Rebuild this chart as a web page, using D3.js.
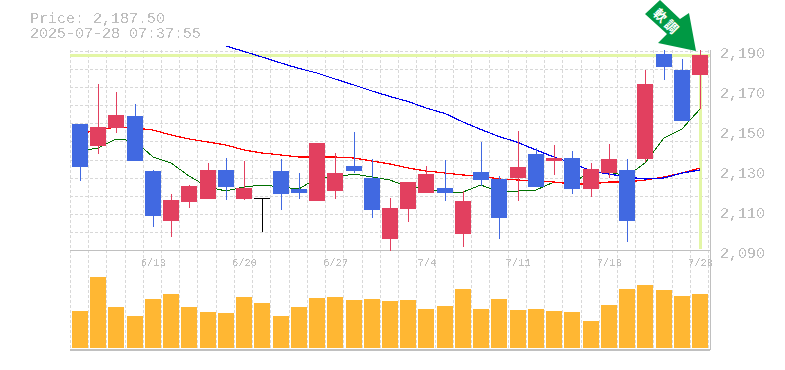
<!DOCTYPE html>
<html>
<head>
<meta charset="utf-8">
<title>Price chart</title>
<script src="https://d3js.org/d3.v7.min.js"></script>
<style>
  html, body { margin: 0; padding: 0; background: #fff; overflow: hidden; }
  svg { display: block; }
  .mono { font-family: "Liberation Mono", monospace; fill: #bebebe; }
</style>
</head>
<body>
<script>
// trading days, one per candle
var days = ["6/9","6/10","6/11","6/12","6/13","6/16","6/17","6/18","6/19","6/20","6/23","6/24","6/25","6/26","6/27","6/30","7/1","7/2","7/3","7/4","7/7","7/8","7/9","7/10","7/11","7/14","7/15","7/16","7/17","7/18","7/22","7/23","7/24","7/25","7/28"];
var dayTicks = ["6/13","6/20","6/27","7/4","7/11","7/18","7/28"];
var priceTicks = [2190,2170,2150,2130,2110,2090];

// top and bottom of the body, high and low, and the body colour
var bodyTop = [2153,2151.5,2157.5,2157,2129.5,2115,2122,2130,2130,2121,2116,2129.5,2120.5,2143.5,2128.5,2132,2126,2111,2124,2128,2121,2114.5,2129,2125.5,2131.5,2138,2136,2136,2130.5,2135.5,2130,2173,2188,2180,2187.5];
var bodyBottom = [2131.7,2142,2151,2134.5,2107,2104.5,2114,2115.5,2121.5,2115.5,2116,2118,2118.5,2114.5,2119.5,2129.5,2110,2095.5,2110.5,2118.5,2118.5,2098,2125,2106,2126,2121.5,2134.5,2120.5,2120.5,2128.5,2104.5,2135.5,2181.5,2154.5,2177.5];
var highs = [2153,2173,2169,2163,2130,2118,2122.5,2133.5,2136,2134.5,2116,2135.5,2128.5,2143.5,2138.5,2149,2135.5,2116,2124,2132,2135,2119.5,2144,2127,2149.5,2141,2142.5,2139.5,2133.5,2143,2135.5,2180,2190,2185.5,2190];
var lows = [2124.5,2138,2148.5,2134.5,2101.5,2096.5,2111,2115.5,2115,2115,2099,2110,2115.5,2114.5,2115.5,2128.5,2106,2089.5,2104,2118.5,2114.5,2091.5,2122,2095.5,2114.5,2121.5,2127.5,2118,2116.5,2126,2094,2134,2175,2154.5,2160.5];
var moves = ["d","u","u","d","d","u","u","u","d","u","f","d","d","u","u","d","d","u","u","u","d","u","d","d","u","d","u","d","u","u","d","u","d","d","u"];

// moving averages
var maShort = [2139.5,2141,2145.5,2144.5,2136.5,2133.5,2127,2121.5,2119.5,2121.5,2122.5,2121.5,2120.5,2126,2126.5,2128,2126.5,2125,2121.5,2121,2118.5,2119,2122.5,2119,2119.5,2120,2124,2123.5,2129,2129,2127,2133.5,2146,2150.5,2160.5];
var maMid = [2148,2150,2151.5,2151,2150,2147.5,2145.5,2144,2142.5,2140,2138.5,2137.5,2136.5,2136.5,2136.5,2136,2134.5,2133,2131,2129.5,2128.5,2127.5,2127,2125.5,2125,2124.5,2124,2123,2123,2124,2124,2125,2126.5,2128.5,2131];
var maLong = [null,null,null,null,null,null,null,null,2192,2189.25,2186.5,2183.5,2180.75,2178.5,2175.5,2172.5,2169.5,2166.75,2164.25,2161,2158.25,2154,2150.25,2146.75,2143.75,2140,2136.5,2133.5,2129.5,2128,2126.5,2125.5,2126,2128.5,2130];

var volume = [37,71,41,32,49,54,41,36,35,51,45,32,41,50,51,48,49,47,48,39,42,59,39,49,38,39,37,36,27,43,59,63,58,52,54];
var lastPrice = 2187.5;

var width = 785, height = 370;
var colors = { d: "#4169e1", u: "#e2405f", f: "#000" };

var svg = d3.select("body").append("svg")
    .attr("width", width)
    .attr("height", height);

var x = d3.scaleBand().domain(days).range([70.3, 708.7]);
var y = d3.scaleLinear().domain([2090, 2190]).range([250, 50]);
var yVol = d3.scaleLinear().domain([0, 98]).range([348, 250]);

var barWidth = 16;
function cx(i) { return Math.round(x(days[i]) + x.step() / 2 + 0.5); }

// grid
var grid = svg.append("g")
    .attr("stroke", "#d8d8d8")
    .attr("stroke-dasharray", "3 2")
    .attr("shape-rendering", "crispEdges");

grid.selectAll("line.v")
    .data(d3.range(days.length + 1))
    .enter().append("line")
    .attr("class", "v")
    .attr("x1", function(d) { return 70.3 + d * x.step(); })
    .attr("x2", function(d) { return 70.3 + d * x.step(); })
    .attr("y1", 50)
    .attr("y2", 350);

grid.selectAll("line.h")
    .data(d3.range(11))
    .enter().append("line")
    .attr("class", "h")
    .attr("x1", 70)
    .attr("x2", 710)
    .attr("y1", function(d) { return y(2190) + 1 + d * 200 / 11; })
    .attr("y2", function(d) { return y(2190) + 1 + d * 200 / 11; });

// current price cross
svg.append("rect")
    .attr("x", 70).attr("width", 640)
    .attr("y", y(lastPrice) - 1).attr("height", 3)
    .attr("fill", "#e3f6a6");
svg.append("rect")
    .attr("x", cx(34) - 1).attr("width", 3)
    .attr("y", y(lastPrice)).attr("height", 194)
    .attr("fill", "#e3f6a6");

// frame
var frame = svg.append("g")
    .attr("stroke", "#c0c0c0")
    .attr("shape-rendering", "crispEdges");
frame.append("line").attr("x1", 70).attr("x2", 710).attr("y1", 250.5).attr("y2", 250.5);
frame.append("line").attr("x1", 70).attr("x2", 710).attr("y1", 350).attr("y2", 350).attr("stroke-width", 1.5);
frame.append("line").attr("x1", 710).attr("x2", 710).attr("y1", 50).attr("y2", 350);

// axes
var threshold = svg.append("defs").append("filter")
    .attr("id", "hard")
    .attr("x", "-5%").attr("y", "-5%")
    .attr("width", "110%").attr("height", "110%");
threshold.append("feComponentTransfer").append("feFuncA")
    .attr("type", "discrete")
    .attr("tableValues", "0 0 1 1");

var yAxis = svg.append("g")
    .attr("transform", "translate(710,0)")
    .call(d3.axisRight(y).tickValues(priceTicks).tickSize(0).tickPadding(10).tickFormat(d3.format(",")));
yAxis.select(".domain").remove();
yAxis.selectAll("text")
    .attr("class", "mono")
    .attr("font-size", 15)
    .attr("font-family", null)
    .attr("dy", "7px")
    .attr("filter", "url(#hard)");

var xAxis = svg.append("g")
    .attr("transform", "translate(1,250)")
    .call(d3.axisBottom(x).tickValues(dayTicks).tickSize(0).tickPadding(0));
xAxis.select(".domain").remove();
xAxis.selectAll("text")
    .attr("class", "mono")
    .attr("font-size", 10.5)
    .attr("dy", "16px")
    .attr("filter", "url(#hard)");

// moving average lines
function maLine(values, color, w) {
    var line = d3.line()
        .defined(function(d) { return d !== null; })
        .x(function(d, i) { return cx(i); })
        .y(function(d) { return y(d); });
    svg.append("path")
        .attr("d", line(values))
        .attr("fill", "none")
        .attr("stroke", color)
        .attr("stroke-width", w)
        .attr("shape-rendering", "crispEdges");
}
maLine(maShort, "#007000", 1);
maLine(maMid, "#ff0000", 1.2);
maLine(maLong, "#0000ee", 1.2);

// candles
var candle = svg.append("g")
    .attr("shape-rendering", "crispEdges")
    .selectAll("g")
    .data(days)
    .enter().append("g");

candle.append("line")
    .attr("x1", function(d, i) { return cx(i); })
    .attr("x2", function(d, i) { return cx(i); })
    .attr("y1", function(d, i) { return y(highs[i]); })
    .attr("y2", function(d, i) { return y(lows[i]); })
    .attr("stroke", function(d, i) { return colors[moves[i]]; });

candle.append("rect")
    .attr("x", function(d, i) { return cx(i) - barWidth / 2; })
    .attr("width", barWidth)
    .attr("y", function(d, i) { return y(bodyTop[i]); })
    .attr("height", function(d, i) { return Math.max(1, y(bodyBottom[i]) - y(bodyTop[i])); })
    .attr("fill", function(d, i) { return colors[moves[i]]; });

// volume
svg.append("g")
    .attr("shape-rendering", "crispEdges")
    .selectAll("rect")
    .data(volume)
    .enter().append("rect")
    .attr("x", function(d, i) { return cx(i) - barWidth / 2; })
    .attr("width", barWidth)
    .attr("y", function(d) { return yVol(d); })
    .attr("height", function(d) { return yVol(0) - yVol(d); })
    .attr("fill", "#ffb733");

// header text
svg.append("text").attr("class", "mono")
    .attr("x", 30).attr("y", 23)
    .attr("font-size", 15)
    .attr("filter", "url(#hard)")
    .text("Price: " + d3.format(",.2f")(lastPrice));
svg.append("text").attr("class", "mono")
    .attr("x", 30).attr("y", 38)
    .attr("font-size", 15)
    .attr("filter", "url(#hard)")
    .text("2025-07-28 07:37:55");

// signal arrow
svg.append("path")
    .attr("d", "M645,14 L660,0 L680,19 L689,13 L696,51 L658,43 L667,34 Z")
    .attr("fill", "#009944");
svg.append("text")
    .attr("transform", "translate(667,22) rotate(45)")
    .attr("text-anchor", "middle")
    .attr("dy", "0.38em")
    .attr("font-family", "'Noto Sans CJK JP'")
    .attr("font-weight", "bold")
    .attr("font-size", 13)
    .attr("letter-spacing", 3)
    .attr("fill", "#fff")
    .text("軟調");
</script>
</body>
</html>
